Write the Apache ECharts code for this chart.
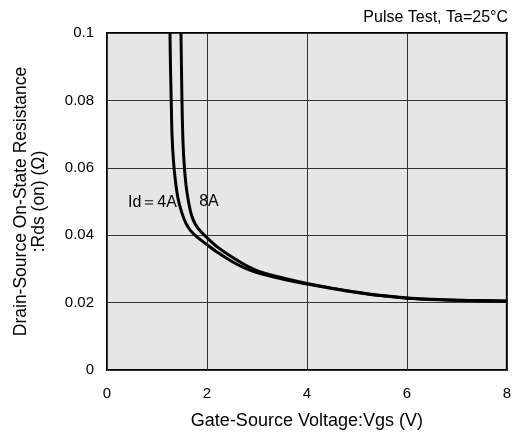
<!DOCTYPE html>
<html><head><meta charset="utf-8">
<script src="https://cdn.jsdelivr.net/npm/echarts@6/dist/echarts.min.js"></script>
<style>html,body{margin:0;padding:0;background:#fff}#c{width:514px;height:435px}</style>
</head><body><div id="c"></div>
<script>
const xTicks = [0, 2, 4, 6, 8];
const yTicks = [0, 0.02, 0.04, 0.06, 0.08, 0.1];
const vgs4A = [1.26, 1.27, 1.285, 1.30, 1.33, 1.37, 1.42, 1.49, 1.58, 1.68, 1.80, 1.90, 2.0, 2.2, 2.5, 2.75, 3.0, 3.3, 3.6, 4.0, 4.5, 5.0, 5.5, 6.0, 6.5, 7.0, 7.5, 8.0];
const rds4A = [0.100, 0.090, 0.080, 0.070, 0.062, 0.056, 0.051, 0.047, 0.0435, 0.0412, 0.0395, 0.0383, 0.0372, 0.0350, 0.0322, 0.0303, 0.0289, 0.0277, 0.0267, 0.0255, 0.0242, 0.0230, 0.0220, 0.0213, 0.0209, 0.0207, 0.0205, 0.0204];
const vgs8A = [1.48, 1.49, 1.50, 1.515, 1.54, 1.58, 1.63, 1.69, 1.77, 1.88, 2.0, 2.2, 2.5, 2.75, 3.0, 3.3, 3.6, 4.0, 4.5, 5.0, 5.5, 6.0, 6.5, 7.0, 7.5, 8.0];
const rds8A = [0.100, 0.090, 0.080, 0.070, 0.062, 0.055, 0.050, 0.0460, 0.0432, 0.0410, 0.0393, 0.0366, 0.0335, 0.0313, 0.0295, 0.0281, 0.0270, 0.0257, 0.0243, 0.0231, 0.0221, 0.0214, 0.0210, 0.0207, 0.0206, 0.0205];
const label4A = 'Id＝4A';
const label8A = '8A';
const noteText = 'Pulse Test, Ta=25°C';
const xName = 'Gate-Source Voltage:Vgs (V)';
const yName = 'Drain-Source On-State Resistance\n:Rds (on) (Ω)';

const font = 'Liberation Sans, Arial, Helvetica, sans-serif';
const chart = echarts.init(document.getElementById('c'));
const pairs = (xs, ys) => xs.map((x, i) => [x, ys[i]]);
const lbl = (t) => ({ show: true, formatter: t, position: 'inside', fontSize: 16, color: '#000', fontFamily: font });
chart.setOption({
  animation: false,
  textStyle: { fontFamily: font },
  grid: { left: 107, right: 6, top: 33, bottom: 64, show: true, backgroundColor: '#e6e6e6', borderColor: '#000', borderWidth: 2 },
  graphic: [{ type: 'text', right: 6, top: 10, style: { text: noteText, font: '16px ' + font, fill: '#000' } }],
  xAxis: {
    type: 'value', min: xTicks[0], max: xTicks[xTicks.length - 1], interval: 2,
    name: xName, nameLocation: 'middle', nameGap: 42,
    nameTextStyle: { fontSize: 18, color: '#000', fontFamily: font },
    axisLine: { show: false }, axisTick: { show: false },
    axisLabel: { margin: 16, fontSize: 15, color: '#000', fontFamily: font },
    splitLine: { show: true, lineStyle: { color: '#333', width: 1 } }
  },
  yAxis: {
    type: 'value', min: yTicks[0], max: yTicks[yTicks.length - 1], interval: 0.02,
    name: yName, nameLocation: 'middle', nameGap: 59,
    nameTextStyle: { fontSize: 17.5, lineHeight: 18, color: '#000', fontFamily: font },
    axisLine: { show: false }, axisTick: { show: false },
    axisLabel: { margin: 13, fontSize: 15, color: '#000', fontFamily: font },
    splitLine: { show: true, lineStyle: { color: '#333', width: 1 } }
  },
  series: [
    { type: 'line', data: pairs(vgs4A, rds4A), showSymbol: false, smooth: 0.25,
      lineStyle: { color: '#000', width: 3 }, z: 3,
      markPoint: { symbol: 'rect', symbolSize: 0, data: [{ coord: [0.91, 0.0498], label: lbl(label4A) }] } },
    { type: 'line', data: pairs(vgs8A, rds8A), showSymbol: false, smooth: 0.25,
      lineStyle: { color: '#000', width: 3 }, z: 3,
      markPoint: { symbol: 'rect', symbolSize: 0, data: [{ coord: [2.04, 0.0500], label: lbl(label8A) }] } }
  ]
});
</script></body></html>
